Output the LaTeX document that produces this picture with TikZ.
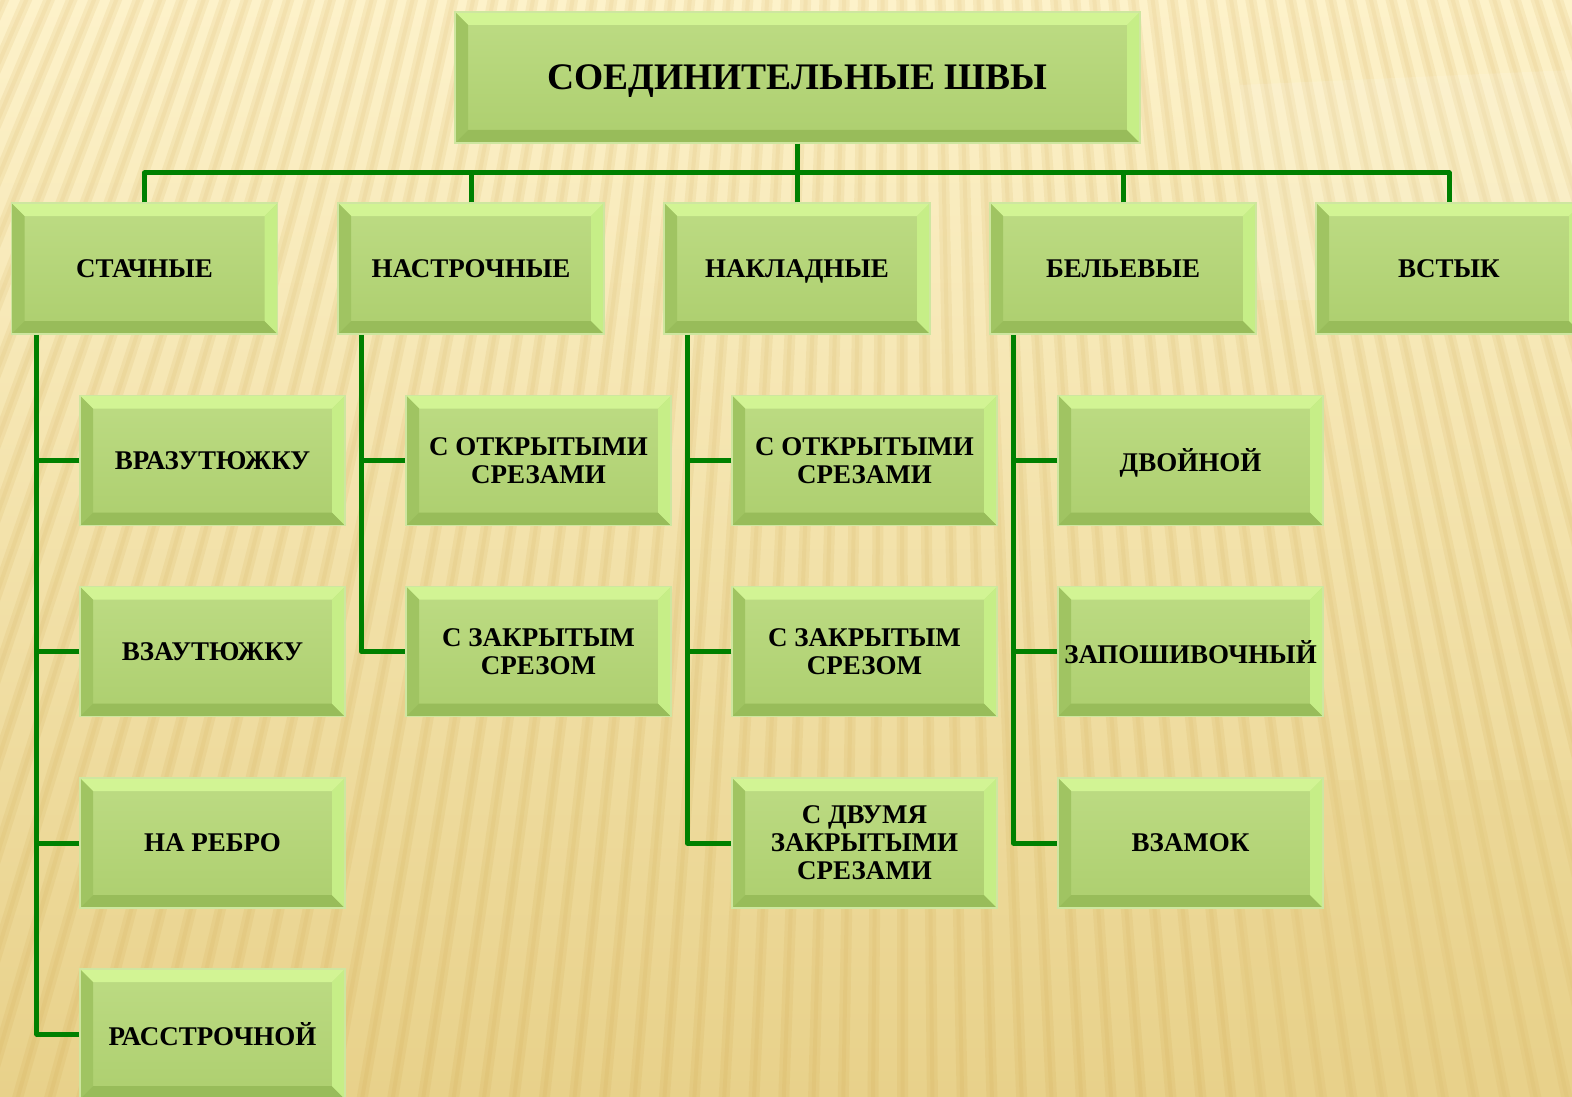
\documentclass[tikz,border=0pt]{standalone}
\usepackage{fontspec}
\setmainfont{Liberation Serif}
\newcommand\mytitlefont{\bfseries\fontsize{37.5}{40}\selectfont}
\newcommand\myboxfont{\bfseries\fontsize{27}{28}\selectfont}
\definecolor{bgtop}{RGB}{253,242,202}
\definecolor{bgbot}{RGB}{232,209,138}
\definecolor{stripe}{RGB}{196,150,50}
\definecolor{lnk}{RGB}{0,128,0}
\definecolor{face}{RGB}{180,215,115}
\definecolor{btop}{RGB}{210,244,148}
\definecolor{bright}{RGB}{198,238,135}
\definecolor{bleft}{RGB}{160,196,98}
\definecolor{bbot}{RGB}{152,188,90}
\definecolor{bord}{RGB}{206,230,160}
\tikzset{
  conn/.style={draw=lnk, line width=5pt, line join=round},
  bevbox/.style={draw=bord, line width=1.5pt,
    top color=face!88!white, bottom color=face!96!black,
    inner sep=0pt, align=center, font=\myboxfont, text depth=0pt,
    minimum width=266pt, minimum height=131pt,
    path picture={
      \coordinate (pnw) at (path picture bounding box.north west);
      \coordinate (pne) at (path picture bounding box.north east);
      \coordinate (psw) at (path picture bounding box.south west);
      \coordinate (pse) at (path picture bounding box.south east);
      \fill[btop] (pnw) -- (pne) -- ([shift={(-13pt,-13pt)}]pne) -- ([shift={(13pt,-13pt)}]pnw) -- cycle;
      \fill[bleft] (pnw) -- ([shift={(13pt,-13pt)}]pnw) -- ([shift={(13pt,13pt)}]psw) -- (psw) -- cycle;
      \fill[bbot] (psw) -- ([shift={(13pt,13pt)}]psw) -- ([shift={(-13pt,13pt)}]pse) -- (pse) -- cycle;
      \fill[bright] (pne) -- (pse) -- ([shift={(-13pt,13pt)}]pse) -- ([shift={(-13pt,-13pt)}]pne) -- cycle;
    }},
  kidbox/.style={bevbox, minimum width=265pt, minimum height=130pt}
}
\begin{document}
\begin{tikzpicture}[x=1pt,y=-1pt]
\useasboundingbox (0,0) rectangle (1572,1097);
\clip (0,0) rectangle (1572,1097);
% background
\fill[top color=bgtop, bottom color=bgbot] (0,0) rectangle (1572,1097);
\foreach \a in {-28,-27.45,...,20} {
  \draw[stripe, opacity=.10, line width=11pt] (900,-2000) -- ({900+3600*sin(\a)},{-2000+3600*cos(\a)});
  \draw[stripe, opacity=.08, line width=4pt] (900,-2000) -- ({900+3600*sin(\a)},{-2000+3600*cos(\a)});
}
\fill[white, opacity=.12] (1240,85) -- (1572,70) -- (1572,300) -- (1240,300) -- cycle;
\fill[bgbot, opacity=.25] (1240,780) -- (1572,780) -- (1572,1097) -- (1240,1097) -- cycle;

% root
\node[bevbox, minimum width=685pt, minimum height=131pt, font=\mytitlefont] (root) at (797.5,77.5) {СОЕДИНИТЕЛЬНЫЕ ШВЫ};
% level 1
\node[bevbox] (st) at (144.5,268.5) {СТАЧНЫЕ};
\node[bevbox] (ns) at (471,268.5) {НАСТРОЧНЫЕ};
\node[bevbox] (nk) at (797,268.5) {НАКЛАДНЫЕ};
\node[bevbox] (bl) at (1123,268.5) {БЕЛЬЕВЫЕ};
\node[bevbox] (vs) at (1449,268.5) {ВСТЫК};
% level 2: stachnye
\node[kidbox] (st1) at (212.5,460.5) {ВРАЗУТЮЖКУ};
\node[kidbox] (st2) at (212.5,651.5) {ВЗАУТЮЖКУ};
\node[kidbox] (st3) at (212.5,843) {НА РЕБРО};
\node[kidbox] (st4) at (212.5,1034) {РАССТРОЧНОЙ};
% nastrochnye
\node[kidbox] (ns1) at (538.5,460.5) {С ОТКРЫТЫМИ\\СРЕЗАМИ};
\node[kidbox] (ns2) at (538.5,651.5) {С ЗАКРЫТЫМ\\СРЕЗОМ};
% nakladnye
\node[kidbox] (nk1) at (864.5,460.5) {С ОТКРЫТЫМИ\\СРЕЗАМИ};
\node[kidbox] (nk2) at (864.5,651.5) {С ЗАКРЫТЫМ\\СРЕЗОМ};
\node[kidbox] (nk3) at (864.5,843) {С ДВУМЯ\\ЗАКРЫТЫМИ\\СРЕЗАМИ};
% belevye
\node[kidbox] (bl1) at (1190.5,460.5) {ДВОЙНОЙ};
\node[kidbox] (bl2) at (1190.5,651.5) {ЗАПОШИВОЧНЫЙ};
\node[kidbox] (bl3) at (1190.5,843) {ВЗАМОК};

% connectors
\coordinate (bus) at (0,173);
\draw[conn] (root.south) -- (root.south |- bus);
\draw[conn] (st.north) -- (st.north |- bus) -- (vs.north |- bus) -- (vs.north);
\foreach \n in {ns,nk,bl} \draw[conn] (\n.north) -- (\n.north |- bus);

\coordinate (sp1) at ([xshift=26pt]st.south west);
\coordinate (sp2) at ([xshift=24pt]ns.south west);
\coordinate (sp3) at ([xshift=24pt]nk.south west);
\coordinate (sp4) at ([xshift=24pt]bl.south west);
\draw[conn] (sp1) |- (st4.west);
\foreach \k in {st1,st2,st3} \draw[conn] (\k.west) -- (\k.west -| sp1);
\draw[conn] (sp2) |- (ns2.west);
\draw[conn] (ns1.west) -- (ns1.west -| sp2);
\draw[conn] (sp3) |- (nk3.west);
\foreach \k in {nk1,nk2} \draw[conn] (\k.west) -- (\k.west -| sp3);
\draw[conn] (sp4) |- (bl3.west);
\foreach \k in {bl1,bl2} \draw[conn] (\k.west) -- (\k.west -| sp4);
\end{tikzpicture}
\end{document}
